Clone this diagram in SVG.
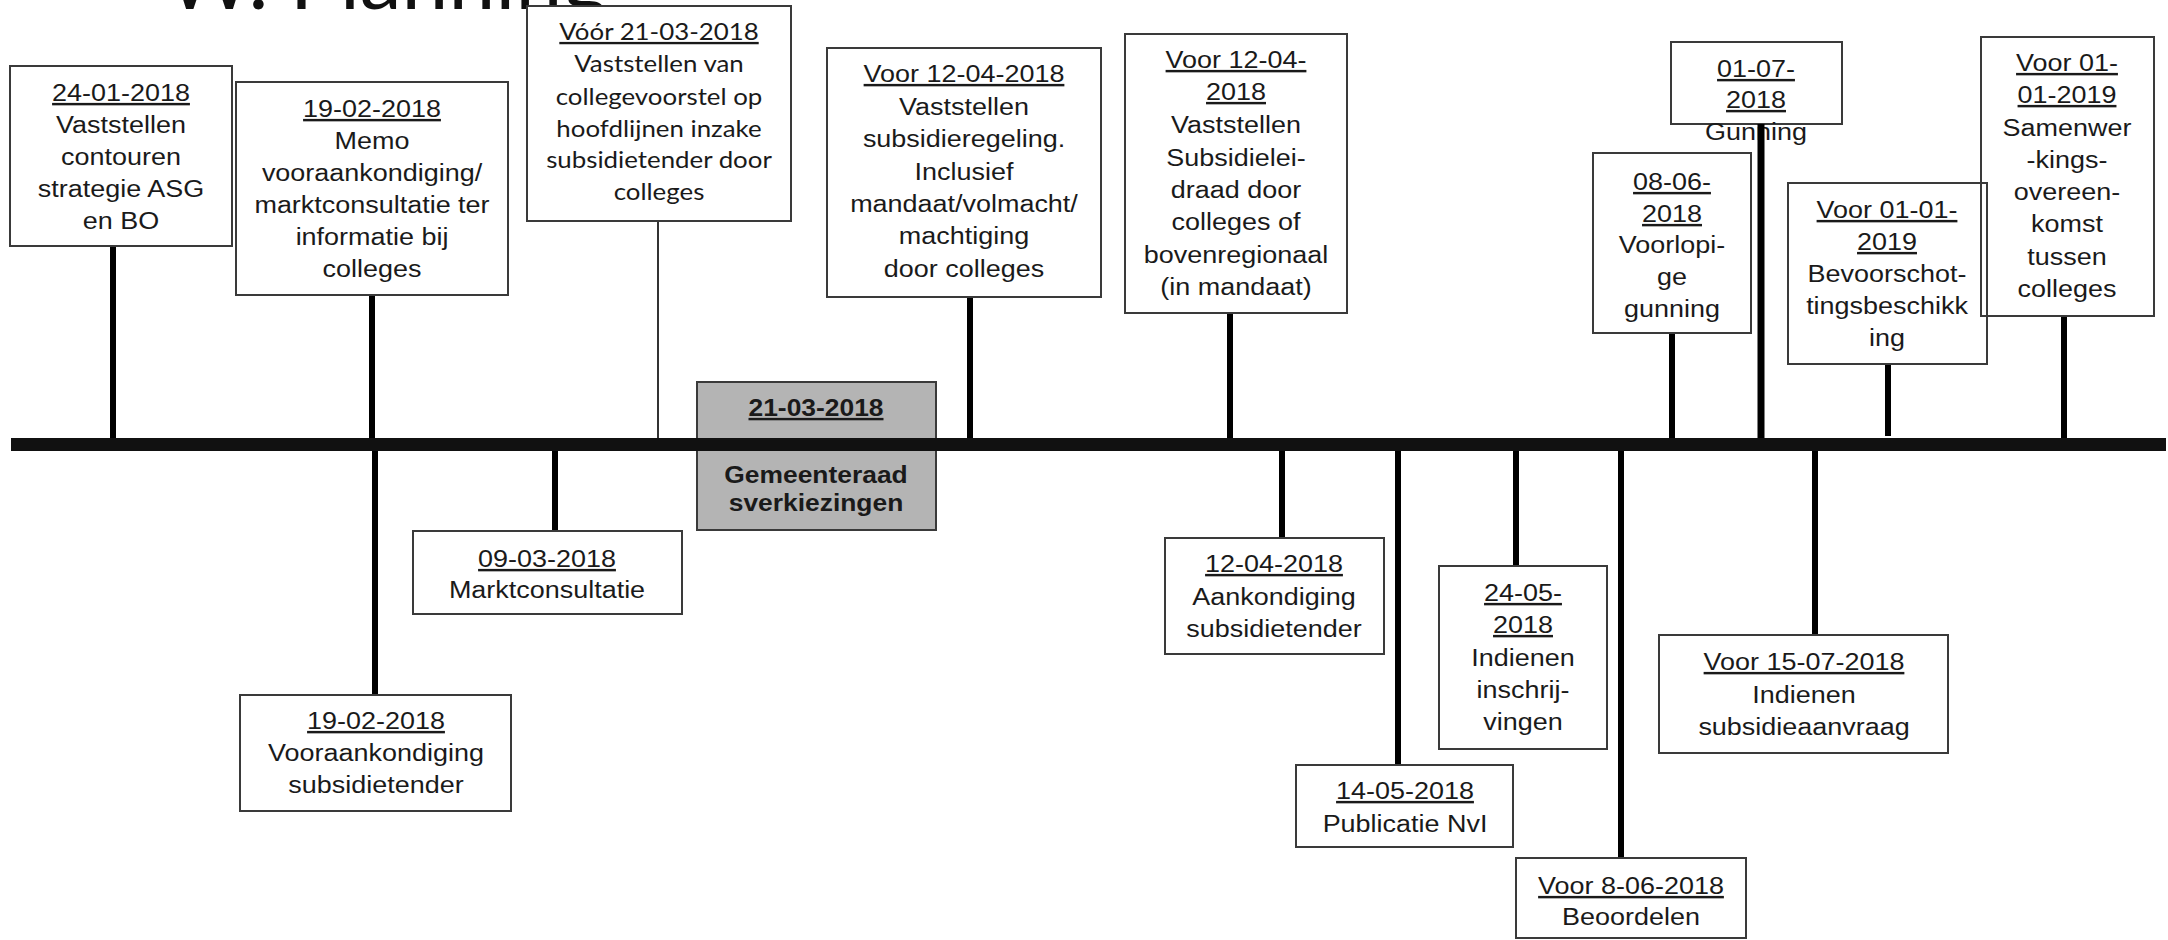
<svg xmlns="http://www.w3.org/2000/svg" width="2168" height="940" viewBox="0 0 2168 940">
<style>
.bg{fill:#fff}
.box{fill:#fff;stroke:#3a3a3a;stroke-width:2}
.boxn{fill:none;stroke:#3a3a3a;stroke-width:2}
.gray{fill:#b4b4b4;stroke:#3a3a3a;stroke-width:2}
.t text{font-family:"Liberation Sans",Arial,sans-serif;font-size:24.5px;fill:#1a1a1a;text-anchor:middle}
.c text{font-family:Lato,"Open Sans",sans-serif;font-size:23.5px;fill:#1a1a1a;text-anchor:middle}
.b text{font-family:"Liberation Sans",Arial,sans-serif;font-size:24px;font-weight:bold;fill:#1a1a1a;text-anchor:middle}
.u{text-decoration:underline}
.stem{stroke:#000;stroke-width:6;fill:none}
.thin{stroke:#333;stroke-width:2;fill:none}
.title{font-family:Lato,"Liberation Sans",sans-serif;font-size:84px;fill:#111}
</style>
<rect class="bg" x="0" y="0" width="2168" height="940"/>
<text class="title" x="166" y="9">W. Planning</text>

<g id="connectors">
  <line class="stem" x1="113" y1="246" x2="113" y2="440"/>
  <line class="stem" x1="372" y1="295" x2="372" y2="445"/>
  <line class="stem" x1="375" y1="445" x2="375" y2="695"/>
  <line class="thin" x1="658" y1="221" x2="658" y2="440"/>
  <line class="stem" x1="970" y1="297" x2="970" y2="440"/>
  <line class="stem" x1="1230" y1="313" x2="1230" y2="440"/>
  <line class="stem" x1="1672" y1="333" x2="1672" y2="440"/>
  <line class="stem" x1="1888" y1="364" x2="1888" y2="436"/>
  <line class="stem" x1="2064" y1="316" x2="2064" y2="440"/>
  <line class="stem" x1="555" y1="450" x2="555" y2="531"/>
  <line class="stem" x1="1282" y1="450" x2="1282" y2="538"/>
  <line class="stem" x1="1398" y1="450" x2="1398" y2="765"/>
  <line class="stem" x1="1516" y1="450" x2="1516" y2="566"/>
  <line class="stem" x1="1621" y1="450" x2="1621" y2="858"/>
  <line class="stem" x1="1815" y1="450" x2="1815" y2="635"/>
</g>

<g id="n-24-01">
  <rect class="box" x="10" y="66" width="222" height="180"/>
  <g class="t" transform="translate(121 0) scale(1.1 1)">
    <text x="0" y="101"><tspan class="u">24-01-2018</tspan></text>
    <text x="0" y="133">Vaststellen</text>
    <text x="0" y="165">contouren</text>
    <text x="0" y="197">strategie ASG</text>
    <text x="0" y="229">en BO</text>
  </g>
</g>

<g id="n-19-02-memo">
  <rect class="box" x="236" y="82" width="272" height="213"/>
  <g class="t" transform="translate(372 0) scale(1.1 1)">
    <text x="0" y="117"><tspan class="u">19-02-2018</tspan></text>
    <text x="0" y="149">Memo</text>
    <text x="0" y="181">vooraankondiging/</text>
    <text x="0" y="213">marktconsultatie ter</text>
    <text x="0" y="245">informatie bij</text>
    <text x="0" y="277">colleges</text>
  </g>
</g>

<g id="n-voor-21-03">
  <rect class="box" x="527" y="6" width="264" height="215"/>
  <g class="c" transform="translate(659 0) scale(1.1 1)">
    <text x="0" y="40"><tspan class="u">Vóór 21-03-2018</tspan></text>
    <text x="0" y="72">Vaststellen van</text>
    <text x="0" y="105">collegevoorstel op</text>
    <text x="0" y="137">hoofdlijnen inzake</text>
    <text x="0" y="168">subsidietender door</text>
    <text x="0" y="200">colleges</text>
  </g>
</g>

<g id="n-21-03">
  <rect class="gray" x="697" y="382" width="239" height="148"/>
  <g class="b" transform="translate(816 0) scale(1.1 1)">
    <text x="0" y="416"><tspan class="u">21-03-2018</tspan></text>
    <text x="0" y="483">Gemeenteraad</text>
    <text x="0" y="511">sverkiezingen</text>
  </g>
</g>

<g id="n-voor-12-04-a">
  <rect class="box" x="827" y="48" width="274" height="249"/>
  <g class="t" transform="translate(964 0) scale(1.1 1)">
    <text x="0" y="82"><tspan class="u">Voor 12-04-2018</tspan></text>
    <text x="0" y="115">Vaststellen</text>
    <text x="0" y="147">subsidieregeling.</text>
    <text x="0" y="180">Inclusief</text>
    <text x="0" y="212">mandaat/volmacht/</text>
    <text x="0" y="244">machtiging</text>
    <text x="0" y="277">door colleges</text>
  </g>
</g>

<g id="n-voor-12-04-b">
  <rect class="box" x="1125" y="34" width="222" height="279"/>
  <g class="t" transform="translate(1236 0) scale(1.1 1)">
    <text x="0" y="68"><tspan class="u">Voor 12-04-</tspan></text>
    <text x="0" y="100"><tspan class="u">2018</tspan></text>
    <text x="0" y="133">Vaststellen</text>
    <text x="0" y="166">Subsidielei-</text>
    <text x="0" y="198">draad door</text>
    <text x="0" y="230">colleges of</text>
    <text x="0" y="263">bovenregionaal</text>
    <text x="0" y="295">(in mandaat)</text>
  </g>
</g>

<g id="n-08-06">
  <rect class="box" x="1593" y="153" width="158" height="180"/>
  <g class="t" transform="translate(1672 0) scale(1.1 1)">
    <text x="0" y="190"><tspan class="u">08-06-</tspan></text>
    <text x="0" y="222"><tspan class="u">2018</tspan></text>
    <text x="0" y="253">Voorlopi-</text>
    <text x="0" y="285">ge</text>
    <text x="0" y="317">gunning</text>
  </g>
</g>

<g id="n-01-07">
  <rect class="box" x="1671" y="42" width="171" height="82"/>
  <g class="t" transform="translate(1756 0) scale(1.1 1)">
    <text x="0" y="77"><tspan class="u">01-07-</tspan></text>
    <text x="0" y="108"><tspan class="u">2018</tspan></text>
    <text x="0" y="140">Gunning</text>
  </g>
  <line class="stem" x1="1761" y1="124" x2="1761" y2="440" style="stroke-width:7"/>
</g>

<g id="n-voor-01-01-b">
  <rect class="boxn" x="1981" y="37" width="173" height="279"/>
  <g class="t" transform="translate(2067 0) scale(1.1 1)">
    <text x="0" y="71"><tspan class="u">Voor 01-</tspan></text>
    <text x="0" y="103"><tspan class="u">01-2019</tspan></text>
    <text x="0" y="136">Samenwer</text>
    <text x="0" y="168">-kings-</text>
    <text x="0" y="200">overeen-</text>
    <text x="0" y="232">komst</text>
    <text x="0" y="265">tussen</text>
    <text x="0" y="297">colleges</text>
  </g>
</g>

<g id="n-voor-01-01-a">
  <rect class="boxn" x="1788" y="183" width="199" height="181"/>
  <g class="t" transform="translate(1887 0) scale(1.1 1)">
    <text x="0" y="218"><tspan class="u">Voor 01-01-</tspan></text>
    <text x="0" y="250"><tspan class="u">2019</tspan></text>
    <text x="0" y="282">Bevoorschot-</text>
    <text x="0" y="314">tingsbeschikk</text>
    <text x="0" y="346">ing</text>
  </g>
</g>

<rect id="axis" x="11" y="438" width="2155" height="13" fill="#111"/>

<g id="n-09-03">
  <rect class="box" x="413" y="531" width="269" height="83"/>
  <g class="t" transform="translate(547 0) scale(1.1 1)">
    <text x="0" y="567"><tspan class="u">09-03-2018</tspan></text>
    <text x="0" y="598">Marktconsultatie</text>
  </g>
</g>

<g id="n-19-02-voor">
  <rect class="box" x="240" y="695" width="271" height="116"/>
  <g class="t" transform="translate(376 0) scale(1.1 1)">
    <text x="0" y="729"><tspan class="u">19-02-2018</tspan></text>
    <text x="0" y="761">Vooraankondiging</text>
    <text x="0" y="793">subsidietender</text>
  </g>
</g>

<g id="n-12-04">
  <rect class="box" x="1165" y="538" width="219" height="116"/>
  <g class="t" transform="translate(1274 0) scale(1.1 1)">
    <text x="0" y="572"><tspan class="u">12-04-2018</tspan></text>
    <text x="0" y="605">Aankondiging</text>
    <text x="0" y="637">subsidietender</text>
  </g>
</g>

<g id="n-14-05">
  <rect class="box" x="1296" y="765" width="217" height="82"/>
  <g class="t" transform="translate(1405 0) scale(1.1 1)">
    <text x="0" y="799"><tspan class="u">14-05-2018</tspan></text>
    <text x="0" y="832">Publicatie NvI</text>
  </g>
</g>

<g id="n-24-05">
  <rect class="box" x="1439" y="566" width="168" height="183"/>
  <g class="t" transform="translate(1523 0) scale(1.1 1)">
    <text x="0" y="601"><tspan class="u">24-05-</tspan></text>
    <text x="0" y="633"><tspan class="u">2018</tspan></text>
    <text x="0" y="666">Indienen</text>
    <text x="0" y="698">inschrij-</text>
    <text x="0" y="730">vingen</text>
  </g>
</g>

<g id="n-voor-8-06">
  <rect class="box" x="1516" y="858" width="230" height="80"/>
  <g class="t" transform="translate(1631 0) scale(1.1 1)">
    <text x="0" y="894"><tspan class="u">Voor 8-06-2018</tspan></text>
    <text x="0" y="925">Beoordelen</text>
  </g>
</g>

<g id="n-voor-15-07">
  <rect class="box" x="1659" y="635" width="289" height="118"/>
  <g class="t" transform="translate(1804 0) scale(1.1 1)">
    <text x="0" y="670"><tspan class="u">Voor 15-07-2018</tspan></text>
    <text x="0" y="703">Indienen</text>
    <text x="0" y="735">subsidieaanvraag</text>
  </g>
</g>
</svg>
